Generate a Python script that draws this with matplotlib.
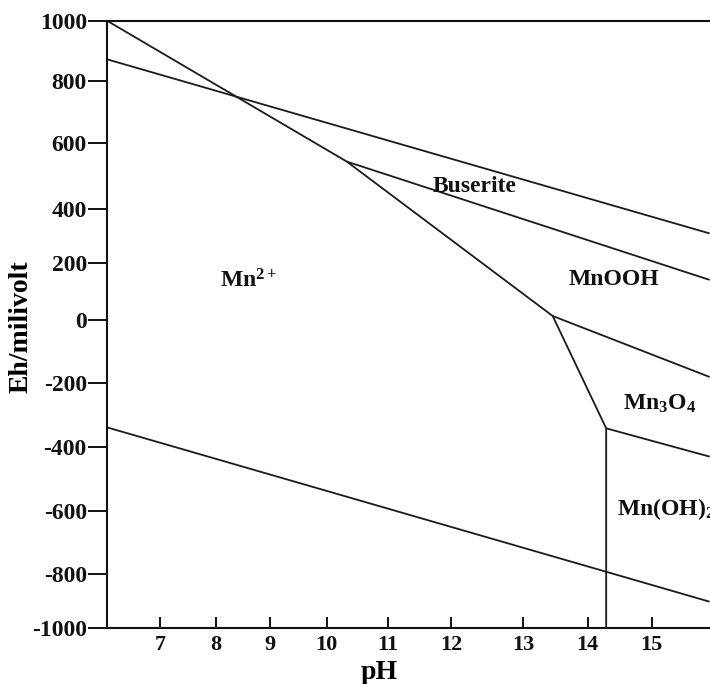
import numpy as np
import matplotlib
matplotlib.use("Agg")
import matplotlib.pyplot as plt

# ---------------- data ----------------
ph_ticks = [7, 8, 9, 10, 11, 12, 13, 14, 15]
eh_ticks = [-1000, -800, -600, -400, -200, 0, 200, 400, 600, 800, 1000]

# boundary lines (pH, Eh in mV)
mn2_ph = [6.0, 10.33, 13.46, 14.29, 14.29]
mn2_eh = [1000, 543, 14, -342, -1000]
o2_ph = [6.0, 15.9]
o2_eh = [872, 309]
bus_ph = [10.33, 15.9]
bus_eh = [543, 140]
mnooh_ph = [13.46, 15.9]
mnooh_eh = [14, -180]
mn3o4_ph = [14.29, 15.9]
mn3o4_eh = [-342, -431]
h2_ph = [6.0, 15.9]
h2_eh = [-339, -902]

field_names = ["Buserite", "MnOOH", r"$\mathbf{Mn^{2+}}$", r"$\mathbf{Mn_3O_4}$", r"$\mathbf{Mn(OH)_2}$"]
field_ph = [11.71, 13.70, 8.08, 14.55, 14.46]
field_eh = [451, 122, 112, -284, -614]

# the printed axis has unevenly spaced ticks: scale knots (value -> drawing position)
ph_knots = [6, 7, 8, 9, 10, 11, 12, 13, 14, 15, 16]
ph_draw = [107, 160.3, 215.6, 269.6, 326.5, 388, 451.4, 523, 587.5, 651.8, 716]
eh_knots = [-1000, -800, -600, -400, -200, 0, 200, 400, 600, 800, 1000]
eh_draw = [628.3, 574, 510.7, 446.7, 383.3, 320, 262.7, 209, 142.7, 81, 20.7]

# ---------------- style ----------------
plt.rcParams["font.family"] = ["Liberation Serif", "DejaVu Serif"]
plt.rcParams["font.weight"] = "bold"
plt.rcParams["mathtext.fontset"] = "custom"
plt.rcParams["mathtext.bf"] = "Liberation Serif:bold"
plt.rcParams["mathtext.rm"] = "Liberation Serif:bold"
plt.rcParams["mathtext.it"] = "Liberation Serif:bold"

W, H = 710, 684
fig = plt.figure(figsize=(W / 100, H / 100), dpi=100)
ax = fig.add_axes([107 / W, (H - 628.3) / H, (W - 107) / W, (628.3 - 20.7) / H])

pk = np.array(ph_knots, float); pd = np.array(ph_draw, float)
ek = np.array(eh_knots, float); ed = -np.array(eh_draw, float)

ax.set_xscale("function", functions=(lambda v: np.interp(v, pk, pd),
                                      lambda t: np.interp(t, pd, pk)))
ax.set_yscale("function", functions=(lambda v: np.interp(v, ek, ed),
                                      lambda t: np.interp(t, ed, ek)))
ax.set_xlim(6.0, 15.906)
ax.set_ylim(-1000, 1000)

lc = "#1a1a1a"
lw = 1.3
for xs, ys in [(mn2_ph, mn2_eh), (o2_ph, o2_eh), (bus_ph, bus_eh),
               (mnooh_ph, mnooh_eh), (mn3o4_ph, mn3o4_eh), (h2_ph, h2_eh)]:
    ax.plot(xs, ys, color=lc, lw=lw, solid_capstyle="butt")

for name, x, y in zip(field_names, field_ph, field_eh):
    ax.text(x, y, name, fontsize=17, fontweight="bold", ha="left", va="baseline",
            color="#111111", clip_on=False)

ax.set_xticks(ph_ticks)
ax.set_xticklabels([str(t) for t in ph_ticks])
ax.set_yticks(eh_ticks)
ax.set_yticklabels([str(t) for t in eh_ticks])
ax.minorticks_off()

ax.tick_params(axis="x", direction="in", length=8, width=1.4, pad=5, labelsize=16, colors="#111111")
ax.tick_params(axis="y", direction="out", length=14, width=1.4, pad=0.5, labelsize=17, colors="#111111")
for lab in ax.get_xticklabels() + ax.get_yticklabels():
    lab.set_fontweight("bold")

for s in ["left", "top", "bottom"]:
    ax.spines[s].set_linewidth(1.5)
    ax.spines[s].set_color("#111111")
ax.spines["right"].set_visible(False)

ax.set_xlabel("pH", fontsize=20, fontweight="bold")
ax.xaxis.set_label_coords(0.451, -0.052)
ax.xaxis.label.set_va("top")
ax.set_ylabel("Eh/milivolt", fontsize=20, fontweight="bold")
ax.yaxis.set_label_coords(-0.143, 0.496)
ax.yaxis.label.set_va("center")

fig.savefig("out.png", dpi=100)
